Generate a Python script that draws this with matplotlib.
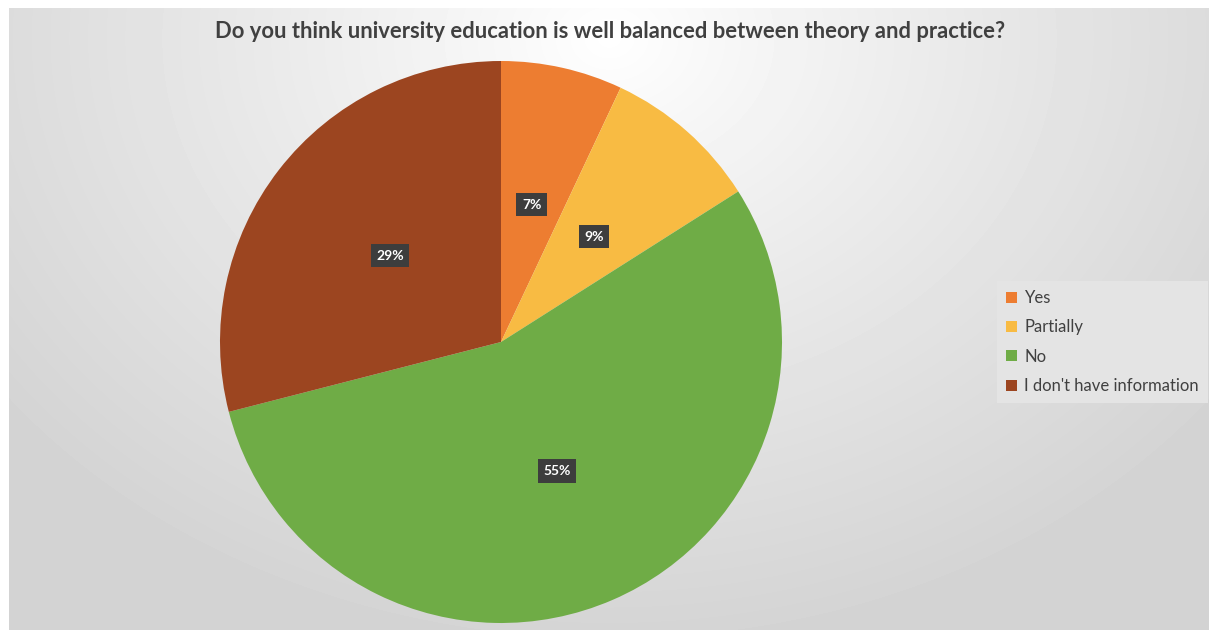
import matplotlib
matplotlib.use('agg')
from matplotlib import pyplot as plt
import numpy

plt.rcParams['font.family'] = ['Lato', 'DejaVu Sans']

title = "Do you think university education is well balanced between theory and practice?"
labels = ["Yes", "Partially", "No", "I don't have information"]
shares = [7, 9, 55, 29]
colors = ["#ED7D31", "#F8BB43", "#6FAC46", "#9C4520"]

W, H = 1209, 630
fig = plt.figure(figsize=(W / 100.0, H / 100.0), dpi=100)
fig.patch.set_facecolor('white')

# radial grey backdrop, light near the title, darker towards the edges
bg = fig.add_axes([9.0 / W, 0, (W - 9.0) / W, (H - 8.0) / H])
bg.set_axis_off()
yy, xx = numpy.mgrid[0:622, 0:1200]
dist = numpy.sqrt((xx - 600.0) ** 2 + ((yy - 30.0) * 1.25) ** 2)
dist = numpy.clip(dist / 760.0, 0, 1)
shade = 1.0 - 0.17 * dist ** 0.9
bg.imshow(shade, cmap='gray', vmin=0, vmax=1, aspect='auto', interpolation='bilinear')

# pie centred at (501, 342) px, radius 281 px
cx, cy, r = 501, 342, 281
ax = fig.add_axes([(cx - r) / W, (H - cy - r) / H, 2.0 * r / W, 2.0 * r / H])
ax.set_axis_off()
wedges, texts, autotexts = ax.pie(shares, colors=colors, startangle=90, counterclock=False,
                                  autopct='%1.0f%%', pctdistance=0.5,
                                  wedgeprops=dict(linewidth=0))
ax.set_xlim(-1, 1)
ax.set_ylim(-1, 1)
for t in autotexts:
    t.set_color('white')
    t.set_fontweight('bold')
    t.set_fontsize(10)
    t.set_bbox(dict(boxstyle='square,pad=0.4', facecolor='#3d3d3d', edgecolor='none'))

fig.text(610.0 / W, 1 - 31.0 / H, title, ha='center', va='center',
         fontsize=15.8, fontweight='bold', color='#404040')

leg = fig.legend(wedges, labels, loc='center left', bbox_to_anchor=(997.0 / W, 1 - 342.0 / H),
                 frameon=True, fancybox=False, fontsize=12, handlelength=0.65, handleheight=0.65,
                 handletextpad=0.45, labelspacing=0.8, borderpad=0.55, borderaxespad=0)
leg.get_frame().set_facecolor('#e4e4e4')
leg.get_frame().set_edgecolor('none')
leg.get_frame().set_alpha(1)
for t in leg.get_texts():
    t.set_color('#404040')

fig.savefig('out.png', dpi=100)
